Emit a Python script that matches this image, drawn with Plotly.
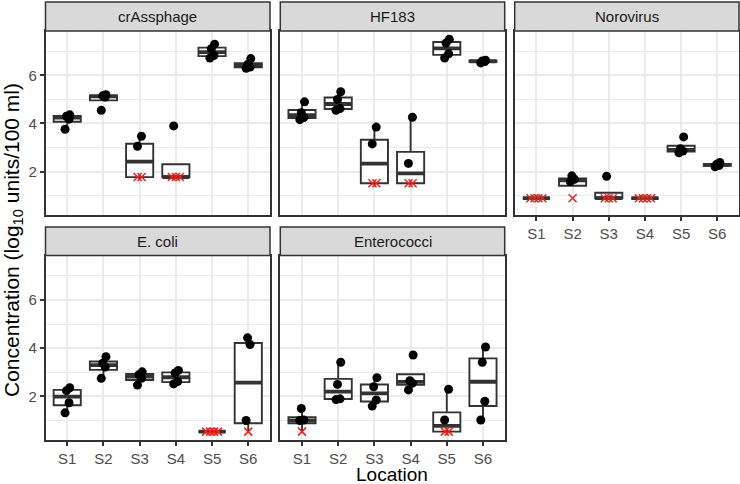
import numpy as np
import plotly.graph_objects as go

# ---------------- data ----------------
locations = ["S1", "S2", "S3", "S4", "S5", "S6"]
targets = ["crAssphage", "HF183", "Norovirus", "E. coli", "Enterococci"]

# 4 samples per location (S1..S6), log10 units/100 ml; *_nd = 1 means non-detect (plotted at LOD)
crass_vals = [3.76, 4.18, 4.30, 4.36, 4.55, 5.10, 5.15, 5.20, 1.77, 1.77, 3.05, 3.47,
              1.77, 1.77, 1.77, 3.90, 6.72, 6.83, 7.11, 7.30, 6.30, 6.35, 6.45, 6.70]
crass_nd = [0, 0, 0, 0, 0, 0, 0, 0, 1, 1, 0, 0,
            1, 1, 1, 0, 0, 0, 0, 0, 0, 0, 0, 0]

hf183_vals = [4.16, 4.25, 4.45, 4.90, 4.55, 4.62, 5.00, 5.32, 1.51, 1.51, 3.15, 3.85,
              1.51, 1.51, 2.34, 4.26, 6.72, 6.90, 7.35, 7.50, 6.52, 6.58, 6.60, 6.63]
hf183_nd = [0, 0, 0, 0, 0, 0, 0, 0, 1, 1, 0, 0,
            1, 1, 0, 0, 0, 0, 0, 0, 0, 0, 0, 0]

noro_vals = [0.89, 0.89, 0.89, 0.89, 0.89, 1.58, 1.68, 1.82, 0.89, 0.89, 0.89, 1.80,
             0.89, 0.89, 0.89, 0.89, 2.78, 2.85, 2.95, 3.44, 2.20, 2.25, 2.30, 2.38]
noro_nd = [1, 1, 1, 1, 1, 0, 0, 0, 1, 1, 1, 0,
           1, 1, 1, 1, 0, 0, 0, 0, 0, 0, 0, 0]

ecoli_vals = [1.32, 1.74, 2.24, 2.36, 2.75, 3.22, 3.38, 3.65, 2.47, 2.75, 2.90, 3.02,
              2.52, 2.62, 2.97, 3.08, 0.54, 0.54, 0.54, 0.54, 0.54, 1.00, 4.15, 4.43]
ecoli_nd = [0, 0, 0, 0, 0, 0, 0, 0, 0, 0, 0, 0,
            0, 0, 0, 0, 1, 1, 1, 1, 1, 0, 0, 0]

entero_vals = [0.54, 1.00, 1.02, 1.50, 1.87, 1.90, 2.50, 3.42, 1.60, 1.85, 2.40, 2.78,
               2.27, 2.55, 2.65, 3.72, 0.54, 0.54, 1.02, 2.30, 1.02, 1.80, 3.42, 4.05]
entero_nd = [1, 0, 0, 0, 0, 0, 0, 0, 0, 0, 0, 0,
             0, 0, 0, 0, 1, 1, 0, 0, 0, 0, 0, 0]

y_ticks = [2, 4, 6]
y_minor = [1, 3, 5, 7]

all_vals = [crass_vals, hf183_vals, noro_vals, ecoli_vals, entero_vals]
all_nd = [crass_nd, hf183_nd, noro_nd, ecoli_nd, entero_nd]

# ---------------- layout geometry (pixels) ----------------
W, H = 740, 484
cols = [(45.5, 270.0), (280.3, 504.7), (514.7, 739.0)]
rows = [(31.0, 215.0), (255.5, 440.0)]
strips = [(2.0, 31.0), (227.0, 255.5)]
panel_rc = [(0, 0), (0, 1), (0, 2), (1, 0), (1, 1)]
x_labels_on = [False, False, True, True, True]
y_labels_on = [True, False, False, True, False]

lo_all = min(min(v) for v in all_vals)
hi_all = max(max(v) for v in all_vals)
pad = 0.05 * (hi_all - lo_all)
y_range = [lo_all - pad, hi_all + pad]

GRID = "#EBEBEB"
DARK = "#333333"
TICKC = "#4D4D4D"
FONT = "Liberation Sans"

fig = go.Figure()
layout = dict(width=W, height=H, margin=dict(l=0, r=0, t=0, b=0),
              plot_bgcolor="white", paper_bgcolor="white", showlegend=False,
              font=dict(family=FONT), shapes=[], annotations=[])

det_jit = [-0.06, 0.05, -0.02, 0.07]

for k, (name, vals, nd) in enumerate(zip(targets, all_vals, all_nd)):
    r, c = panel_rc[k]
    sfx = "" if k == 0 else str(k + 1)
    xa, ya = "x" + sfx, "y" + sfx
    x0, x1 = cols[c]
    y0, y1 = rows[r]
    layout["xaxis" + sfx] = dict(
        domain=[x0 / W, x1 / W], anchor=ya, range=[0.4, len(locations) + 0.6],
        tickmode="array", tickvals=list(range(1, len(locations) + 1)), ticktext=locations,
        showticklabels=x_labels_on[k], ticks="outside" if x_labels_on[k] else "",
        ticklen=4, tickwidth=1.5, tickcolor=DARK,
        tickfont=dict(size=15, color=TICKC, family=FONT),
        showgrid=True, gridcolor=GRID, gridwidth=2, zeroline=False,
        showline=True, mirror=True, linecolor=DARK, linewidth=1.5, fixedrange=True)
    layout["yaxis" + sfx] = dict(
        domain=[1 - y1 / H, 1 - y0 / H], anchor=xa, range=y_range,
        tickmode="array", tickvals=y_ticks,
        showticklabels=y_labels_on[k], ticks="outside" if y_labels_on[k] else "",
        ticklen=4, tickwidth=1.5, tickcolor=DARK,
        tickfont=dict(size=15, color=TICKC, family=FONT),
        showgrid=True, gridcolor=GRID, gridwidth=2, zeroline=False,
        minor=dict(tickvals=y_minor, showgrid=True, gridcolor=GRID, gridwidth=1, ticks=""),
        showline=True, mirror=True, linecolor=DARK, linewidth=1.5, fixedrange=True)

    # strip
    s0, s1 = strips[r]
    layout["shapes"].append(dict(type="rect", xref="paper", yref="paper",
                                 x0=x0 / W, x1=x1 / W, y0=1 - s1 / H, y1=1 - s0 / H,
                                 fillcolor="#D9D9D9", line=dict(color=DARK, width=1.5)))
    layout["annotations"].append(dict(text=name, xref="paper", yref="paper",
                                      x=(x0 + x1) / 2 / W, y=1 - (s0 + s1) / 2 / H,
                                      xanchor="center", yanchor="middle", showarrow=False,
                                      font=dict(size=15, color="#1A1A1A", family=FONT)))

    # box statistics (R type-7 quantiles, Tukey whiskers)
    pos, q1s, meds, q3s, los, his = [], [], [], [], [], []
    mx, my = [], []
    px_d, py_d, px_n, py_n = [], [], [], []
    for i, loc in enumerate(locations):
        g = np.array(vals[4 * i:4 * i + 4])
        f = nd[4 * i:4 * i + 4]
        q1, med, q3 = np.percentile(g, [25, 50, 75])
        iqr = q3 - q1
        lo = g[g >= q1 - 1.5 * iqr].min()
        hi = g[g <= q3 + 1.5 * iqr].max()
        p = i + 1
        pos.append(p); q1s.append(q1); meds.append(med); q3s.append(q3)
        los.append(lo); his.append(hi)
        mx += [p - 0.375, p + 0.375, None]
        my += [med, med, None]
        n_nd = sum(f)
        kn = kd = 0
        for v, fl in zip(g, f):
            if fl:
                px_n.append(p + (kn - (n_nd - 1) / 2) * 0.11)
                py_n.append(v)
                kn += 1
            else:
                px_d.append(p + det_jit[kd % 4])
                py_d.append(v)
                kd += 1

    fig.add_trace(go.Box(x=pos, q1=q1s, median=meds, q3=q3s, lowerfence=los, upperfence=his,
                         width=0.75, whiskerwidth=0, fillcolor="white",
                         line=dict(color=DARK, width=1.9), boxpoints=False,
                         xaxis=xa, yaxis=ya, hoverinfo="skip"))
    fig.add_trace(go.Scatter(x=mx, y=my, mode="lines", line=dict(color=DARK, width=3.8),
                             xaxis=xa, yaxis=ya, hoverinfo="skip"))
    fig.add_trace(go.Scatter(x=px_d, y=py_d, mode="markers",
                             marker=dict(symbol="circle", size=9, color="black"),
                             xaxis=xa, yaxis=ya, hoverinfo="skip"))
    fig.add_trace(go.Scatter(x=px_n, y=py_n, mode="markers",
                             marker=dict(symbol="x-thin", size=8, color="#E8221C",
                                         line=dict(color="#E8221C", width=1.5)),
                             xaxis=xa, yaxis=ya, hoverinfo="skip"))

# axis titles
layout["annotations"].append(dict(text="Concentration (log<sub>10</sub> units/100 ml)",
                                  xref="paper", yref="paper", x=13 / W, y=1 - 240 / H,
                                  textangle=-90, showarrow=False, xanchor="center", yanchor="middle",
                                  font=dict(size=21, color="black", family=FONT)))
layout["annotations"].append(dict(text="Location", xref="paper", yref="paper",
                                  x=(cols[0][0] + cols[2][1]) / 2 / W, y=1 - 474 / H,
                                  showarrow=False, xanchor="center", yanchor="middle",
                                  font=dict(size=19, color="black", family=FONT)))

fig.update_layout(**layout)
fig.write_html("out.html", config={"displayModeBar": False},
               post_script="document.body.style.margin='0';document.body.style.overflow='hidden';")
